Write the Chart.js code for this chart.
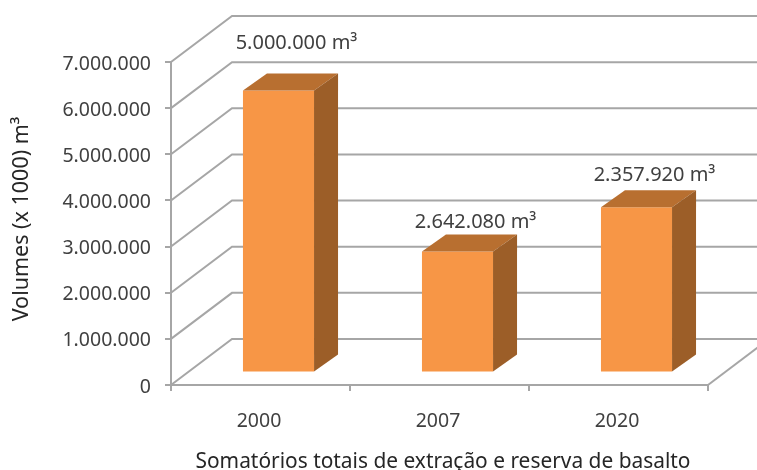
<!DOCTYPE html>
<html>
<head>
<meta charset="utf-8">
<style>
  html, body { margin: 0; padding: 0; background: #fff; }
  canvas { display: block; }
</style>
<script src="https://cdn.jsdelivr.net/npm/chart.js@4"></script>
</head>
<body>
<canvas id="chart" width="757" height="470"></canvas>
<script>
const years = ['2000', '2007', '2020'];
const volumes = [6110000, 2620000, 3580000];
const volumeLabels = ['5.000.000 m³', '2.642.080 m³', '2.357.920 m³'];
const xTitle = 'Somatórios totais de extração e reserva de basalto';
const yTitle = 'Volumes (x 1000) m³';

const FONT = '"Noto Sans", sans-serif';
const TEXT = '#404040';
const TITLE = '#262626';
const GRID = '#a6a6a6';
const FRONT = '#f79646';
const TOP = '#b86f30';
const SIDE = '#9c5e28';

// 3D look: back wall offset, and how far the bars sit in front of it
const WALL_DX = 61, WALL_DY = 46;
const BAR_DX = 18, BAR_DY = 12.5;
const DEPTH_DX = 24, DEPTH_DY = 17;
const LABEL_GAP = [47, 29, 32];

const walls = {
  id: 'walls',
  beforeDatasetsDraw(chart) {
    const { ctx, chartArea, scales } = chart;
    ctx.save();
    ctx.strokeStyle = GRID;
    ctx.lineWidth = 2;
    scales.y.ticks.forEach(t => {
      const y = scales.y.getPixelForValue(t.value);
      ctx.beginPath();
      ctx.moveTo(chartArea.left, y);
      ctx.lineTo(chartArea.left + WALL_DX, y - WALL_DY);
      ctx.lineTo(chartArea.right + WALL_DX, y - WALL_DY);
      ctx.stroke();
    });
    ctx.beginPath();
    ctx.moveTo(chartArea.right, chartArea.bottom);
    ctx.lineTo(chartArea.right + WALL_DX, chartArea.bottom - WALL_DY);
    ctx.stroke();
    ctx.restore();
    // bars go slightly forward of the axis plane
    ctx.save();
    ctx.translate(BAR_DX, -BAR_DY);
  },
  afterDatasetsDraw(chart) {
    const { ctx } = chart;
    const bars = chart.getDatasetMeta(0).data;
    bars.forEach(bar => {
      const half = bar.width / 2;
      const l = bar.x - half, r = bar.x + half;
      ctx.fillStyle = TOP;
      ctx.beginPath();
      ctx.moveTo(l, bar.y);
      ctx.lineTo(l + DEPTH_DX, bar.y - DEPTH_DY);
      ctx.lineTo(r + DEPTH_DX, bar.y - DEPTH_DY);
      ctx.lineTo(r, bar.y);
      ctx.closePath();
      ctx.fill();
      ctx.fillStyle = SIDE;
      ctx.beginPath();
      ctx.moveTo(r, bar.y);
      ctx.lineTo(r + DEPTH_DX, bar.y - DEPTH_DY);
      ctx.lineTo(r + DEPTH_DX, bar.base - DEPTH_DY);
      ctx.lineTo(r, bar.base);
      ctx.closePath();
      ctx.fill();
    });
    ctx.fillStyle = TEXT;
    ctx.font = '20px ' + FONT;
    ctx.textAlign = 'center';
    ctx.textBaseline = 'middle';
    bars.forEach((bar, i) => {
      ctx.fillText(volumeLabels[i], bar.x + 18, bar.y - LABEL_GAP[i]);
    });
    ctx.restore();
  },
  // axis titles sit off the plot centre in the original, so they are placed by hand
  afterDraw(chart) {
    const { ctx } = chart;
    ctx.save();
    ctx.fillStyle = TITLE;
    ctx.textAlign = 'center';
    ctx.textBaseline = 'middle';
    ctx.font = '20.9px ' + FONT;
    ctx.fillText(xTitle, 443, 462);
    ctx.translate(22, 219);
    ctx.rotate(-Math.PI / 2);
    ctx.font = '21.5px ' + FONT;
    ctx.fillText(yTitle, 0, 0);
    ctx.restore();
  }
};

new Chart(document.getElementById('chart').getContext('2d'), {
  type: 'bar',
  data: {
    labels: years,
    datasets: [{
      data: volumes,
      backgroundColor: FRONT,
      barPercentage: 0.397,
      categoryPercentage: 1
    }]
  },
  options: {
    responsive: false,
    animation: false,
    layout: { padding: { top: 62, right: 49 } },
    plugins: {
      legend: { display: false },
      tooltip: { enabled: false }
    },
    scales: {
      x: {
        afterFit: s => { s.height = 85; },
        border: { color: GRID, width: 2 },
        grid: { drawOnChartArea: false, color: GRID, lineWidth: 2, tickLength: 6, offset: true },
        ticks: { color: TEXT, font: { family: FONT, size: 19.5 }, padding: 19, labelOffset: -1.5, maxRotation: 0 }
      },
      y: {
        afterFit: s => { s.width = 171; },
        min: 0,
        max: 7000000,
        border: { color: GRID, width: 2 },
        grid: { drawOnChartArea: false, color: GRID, lineWidth: 2, tickLength: 6 },
        ticks: {
          stepSize: 1000000,
          color: TEXT,
          font: { family: FONT, size: 19.5 },
          padding: 14,
          labelOffset: 2,
          callback: v => String(v).replace(/\B(?=(\d{3})+$)/g, '.')
        }
      }
    }
  },
  plugins: [walls]
});
</script>
</body>
</html>
